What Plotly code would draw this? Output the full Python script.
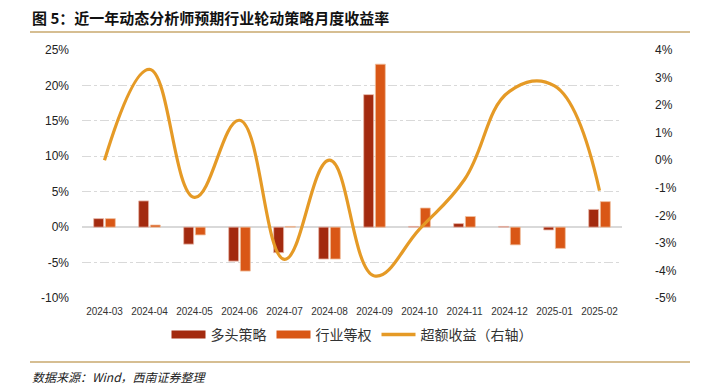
import plotly.graph_objects as go

months = ["2024-03", "2024-04", "2024-05", "2024-06", "2024-07", "2024-08",
          "2024-09", "2024-10", "2024-11", "2024-12", "2025-01", "2025-02"]
long_strategy = [1.2, 3.7, -2.4, -4.8, -3.6, -4.5, 18.7, 0.1, 0.5, 0.1, -0.4, 2.5]
industry_equal = [1.2, 0.3, -1.1, -6.2, 0.1, -4.5, 23.0, 2.7, 1.5, -2.5, -3.0, 3.6]
excess_return = [0.0, 3.3, -1.35, 1.45, -3.6, 0.0, -4.2, -2.5, -0.7, 2.5, 2.7, -1.1]

left_ticks = [-10, -5, 0, 5, 10, 15, 20, 25]
right_ticks = [-5, -4, -3, -2, -1, 0, 1, 2, 3, 4]

cjk = "Noto Sans CJK SC"
latin = "Liberation Sans, Arial, sans-serif"
c_long, c_ind, c_ex = "#A32A0F", "#D95716", "#E59A26"

# page offset of 8px (default body margin) compensated by a smaller figure
W, H = 695, 377
L, T, PW, PH = 74, 42, 540, 248


def px(xp):
    return (xp - 8 - L) / PW


def py(yp):
    return 1 - (yp - 8 - T) / PH


fig = go.Figure()
fig.add_trace(go.Bar(x=months, y=long_strategy, name="多头策略", showlegend=False,
                     marker=dict(color=c_long, line=dict(color="#E8B8A8", width=0.8))))
fig.add_trace(go.Bar(x=months, y=industry_equal, name="行业等权", showlegend=False,
                     marker=dict(color=c_ind, line=dict(color="#F0C0A0", width=0.8))))
fig.add_trace(go.Scatter(x=months, y=excess_return, name="超额收益（右轴）", yaxis="y2", showlegend=False,
                         mode="lines", line=dict(color=c_ex, width=3.2, shape="spline", smoothing=1.2)))
for nm, col, w in [("多头策略", c_long, 8), ("行业等权", c_ind, 8), ("超额收益（右轴）", c_ex, 3.5)]:
    fig.add_trace(go.Scatter(x=[None], y=[None], mode="lines", name=nm,
                             line=dict(color=col, width=w), showlegend=True))

fig.update_layout(
    width=W, height=H,
    margin=dict(l=L, r=W - L - PW, t=T, b=H - T - PH, autoexpand=False),
    paper_bgcolor="white", plot_bgcolor="white",
    barmode="group", bargap=0.48, bargroupgap=0.15,
    font=dict(family=latin, size=11, color="#222"),
    showlegend=True,
    legend=dict(orientation="h", x=0.5, xanchor="center", y=py(335), yanchor="middle",
                font=dict(family=cjk, size=14, color="#333"), traceorder="normal",
                itemwidth=34, tracegroupgap=0),
    xaxis=dict(type="category", showgrid=False, showline=False, ticks="",
               tickfont=dict(family=latin, size=10, color="#333"), ticklabelstandoff=6),
    yaxis=dict(range=[-10, 25], tickvals=left_ticks, ticktext=[f"{v}%" for v in left_ticks],
               showgrid=True, gridcolor="#D9D9D9", griddash="dashdot", gridwidth=1,
               zeroline=True, zerolinecolor="#D9D9D9", zerolinewidth=1.5,
               tickfont=dict(family=latin, size=12, color="#222"), ticks="", ticklabelstandoff=12),
    yaxis2=dict(range=[-5, 4], overlaying="y", side="right", tickvals=right_ticks,
                ticktext=[f"{v}%" for v in right_ticks], showgrid=False, zeroline=False,
                tickfont=dict(family=latin, size=12, color="#222"), ticks="", ticklabelstandoff=32),
)

fig.add_annotation(text="<b>图 5：近一年动态分析师预期行业轮动策略月度收益率</b>", xref="paper", yref="paper",
                   x=px(30), y=py(17), xanchor="left", yanchor="middle", showarrow=False,
                   font=dict(family=cjk, size=15, color="#111"))
fig.add_annotation(text="<i>数据来源：Wind，西南证券整理</i>", xref="paper", yref="paper",
                   x=px(30), y=py(376), xanchor="left", yanchor="middle", showarrow=False,
                   font=dict(family=cjk, size=12, color="#222"))
fig.add_shape(type="line", xref="paper", yref="paper", x0=px(30), x1=px(690),
              y0=py(32), y1=py(32), line=dict(color="#C9A86E", width=1.5))
fig.add_shape(type="line", xref="paper", yref="paper", x0=px(30), x1=px(690),
              y0=py(362), y1=py(362), line=dict(color="#C9A86E", width=1.5))

fig.write_html("out.html")
